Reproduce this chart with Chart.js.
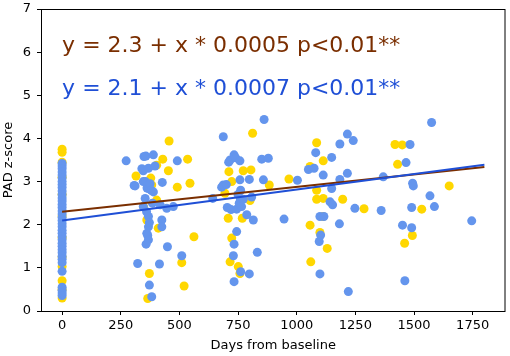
<!DOCTYPE html>
<html>
<head>
<meta charset="utf-8">
<script src="https://cdn.jsdelivr.net/npm/chart.js@4"></script>
<style>
  body { margin: 0; background: #fff; }
</style>
</head>
<body>
<canvas id="padChart" width="510" height="356"></canvas>
<script>
// 노란 점 (x: days, y: z-score)
const yellowX = [0, 0, 0, 0, 0, 0, 0, 0, 0, 0, 0, 0,
  315, 347, 361, 365, 372, 378, 382, 403, 403, 410, 429, 453, 456, 491, 510, 520, 535, 545, 562,
  694, 708, 711, 716, 723, 723, 751, 758, 768, 772, 801, 805, 812, 883, 967,
  1057, 1057, 1060, 1085, 1085, 1085, 1099, 1112, 1113, 1113, 1130, 1196, 1287,
  1419, 1430, 1450, 1460, 1493, 1533, 1650];
const yellowY = [3.75, 3.68, 3.45, 3.1, 2.7, 2.2, 1.7, 1.25, 1.03, 0.7, 0.5, 0.3,
  3.13, 2.42, 2.11, 0.29, 0.87, 3.08, 2.92, 2.57, 3.38, 1.92, 3.52, 3.25, 3.94, 2.87, 1.12, 0.58, 3.52, 2.96, 1.72,
  2.73, 2.15, 3.23, 1.14, 1.69, 3.0, 1.03, 0.87, 2.15, 3.25, 2.56, 3.27, 4.12, 2.92, 3.06,
  1.99, 3.35, 1.14, 3.9, 2.8, 2.59, 1.82, 2.19, 3.48, 2.61, 1.45, 2.59, 2.37,
  3.86, 3.4, 3.85, 1.57, 1.75, 2.36, 2.9];

// 파란 점
const blueX = [0, 0, 0, 0, 0, 0, 0, 0, 0, 0, 0, 0, 0, 0, 0, 0, 0, 0, 0, 0,
  0, 0, 0, 0, 0, 0, 0, 0, 0, 0, 0, 0, 0, 0, 0, 0, 0,
  273, 307, 311, 322, 340, 346, 346, 346, 349, 354, 355, 357, 358, 360, 361, 362, 365,
  368, 368, 368, 368, 368, 372, 372, 375, 380, 382, 385, 389, 389, 396,
  415, 418, 425, 425, 427, 446, 449, 474, 491, 510,
  642, 680, 687, 687, 700, 704, 710, 716, 720, 730, 733, 733, 733, 740, 744, 744, 750, 755,
  758, 758, 760, 761, 761, 765, 772, 787, 798, 798, 808, 815, 832, 851, 858, 861, 879, 946,
  1003, 1050, 1074, 1081, 1096, 1099, 1099, 1102, 1113, 1116, 1142, 1149, 1149, 1153,
  1182, 1184, 1184, 1216, 1216, 1220, 1241, 1248, 1360, 1369,
  1451, 1461, 1466, 1483, 1490, 1490, 1494, 1497, 1568, 1575, 1587, 1746];
const blueY = [3.42, 3.36, 3.3, 3.22, 3.15, 3.08, 3.0, 2.93, 2.86, 2.78, 2.7, 2.62, 2.55, 2.47, 2.4, 2.32, 2.25, 2.17, 2.1, 2.02,
  1.95, 1.87, 1.8, 1.72, 1.65, 1.57, 1.5, 1.42, 1.35, 1.27, 1.2, 1.12, 0.92, 0.55, 0.48, 0.42, 0.36,
  3.48, 2.91, 2.9, 1.1, 3.3, 3.25, 3.0, 2.42, 3.58, 2.61, 3.0, 3.59, 1.55, 2.3, 1.8, 2.85, 1.75,
  3.31, 2.84, 2.19, 1.95, 1.65, 0.6, 2.05, 2.95, 2.8, 0.33, 2.5, 3.62, 2.76, 3.36,
  1.09, 2.46, 2.11, 1.95, 2.98, 2.38, 1.49, 2.42, 3.48, 1.28,
  2.61, 2.87, 2.92, 4.04, 2.93, 2.4, 3.45, 3.5, 2.35, 1.28, 3.62, 1.55, 0.68, 3.55, 2.36, 1.84, 2.7, 2.5,
  3.48, 3.04, 2.6, 2.8, 0.91, 2.42, 2.59, 2.23, 3.05, 0.86, 2.64, 2.11, 1.36, 3.52, 3.04, 4.44, 3.54, 2.13,
  3.03, 3.28, 3.31, 3.67, 1.61, 2.19, 0.86, 1.76, 3.15, 2.19, 2.53, 3.56, 2.84, 2.46,
  2.02, 3.87, 3.05, 4.1, 3.19, 0.45, 3.95, 2.38, 2.33, 3.11,
  1.99, 0.7, 3.44, 3.86, 2.4, 1.93, 2.96, 2.9, 2.67, 4.37, 2.42, 2.09];

// 회귀선 (양 끝점)
const fitX = [0, 1800];
const brownFitY = [2.3, 3.34];
const blueFitY = [2.1, 3.39];

// 축 눈금
const xTicks = [0, 250, 500, 750, 1000, 1250, 1500, 1750];
const yTicks = [0, 1, 2, 3, 4, 5, 6, 7];

// 식 텍스트
const eqTexts = ["y = 2.3 + x * 0.0005 p<0.01**", "y = 2.1 + x * 0.0007 p<0.01**"];
const eqAnchorY = [6, 5];
const eqColors = ["#7a2e00", "#1f4fd6"];

const toPoints = (xs, ys) => xs.map((x, i) => ({ x: x, y: ys[i] }));

// 네 테두리 + 식 텍스트
const framePlugin = {
  id: "frame",
  afterDatasetsDraw(chart) {
    const { ctx, chartArea, scales } = chart;
    ctx.save();
    ctx.strokeStyle = "#000";
    ctx.lineWidth = 1;
    ctx.strokeRect(chartArea.left + 0.5, chartArea.top + 0.5,
      chartArea.right - chartArea.left - 1, chartArea.bottom - chartArea.top);
    ctx.font = "22px 'DejaVu Sans'";
    ctx.textBaseline = "alphabetic";
    ctx.textAlign = "left";
    eqTexts.forEach((t, i) => {
      ctx.fillStyle = eqColors[i];
      ctx.fillText(t, scales.x.getPixelForValue(0), scales.y.getPixelForValue(eqAnchorY[i]));
    });
    ctx.restore();
  },
};

const tickFont = { family: "'DejaVu Sans'", size: 13 };

new Chart(document.getElementById("padChart").getContext("2d"), {
  type: "scatter",
  data: {
    datasets: [
      {
        type: "line",
        data: toPoints(fitX, blueFitY),
        borderColor: "#1f4fd6",
        borderWidth: 2,
        pointRadius: 0,
        fill: false,
      },
      {
        type: "line",
        data: toPoints(fitX, brownFitY),
        borderColor: "#7a2e00",
        borderWidth: 2,
        pointRadius: 0,
        fill: false,
      },
      {
        data: toPoints(blueX, blueY),
        backgroundColor: "#6495ed",
        borderWidth: 0,
        pointRadius: 4.5,
      },
      {
        data: toPoints(yellowX, yellowY),
        backgroundColor: "#ffd700",
        borderWidth: 0,
        pointRadius: 4.5,
      },
    ],
  },
  options: {
    responsive: false,
    animation: false,
    events: [],
    layout: { padding: { top: 9, right: 1, left: 0, bottom: 0 } },
    plugins: {
      legend: { display: false },
      tooltip: { enabled: false },
    },
    scales: {
      x: {
        type: "linear",
        min: -90,
        max: 1890,
        afterBuildTicks: (scale) => {
          scale.ticks = xTicks.map((v) => ({ value: v }));
        },
        afterFit: (scale) => {
          scale.height = 45;
          scale.paddingLeft = 0;
          scale.paddingRight = 0;
        },
        grid: { drawOnChartArea: false, drawTicks: true, tickLength: 4, color: "#000" },
        border: { display: false },
        ticks: {
          color: "#000",
          font: tickFont,
          padding: 3,
          maxRotation: 0,
          autoSkip: false,
          callback: (v) => String(v),
        },
        title: {
          display: true,
          text: "Days from baseline",
          color: "#000",
          font: tickFont,
          padding: { top: 0, bottom: 3 },
        },
      },
      y: {
        type: "linear",
        min: 0,
        max: 7,
        afterBuildTicks: (scale) => {
          scale.ticks = yTicks.map((v) => ({ value: v }));
        },
        afterFit: (scale) => {
          scale.width = 41;
          scale.paddingTop = 0;
          scale.paddingBottom = 0;
        },
        grid: { drawOnChartArea: false, drawTicks: true, tickLength: 4, color: "#000" },
        border: { display: false },
        ticks: { color: "#000", font: tickFont, padding: 6, callback: (v) => String(v) },
        title: {
          display: true,
          text: "PAD z-score",
          color: "#000",
          font: tickFont,
          padding: { top: 1, bottom: 0 },
        },
      },
    },
  },
  plugins: [framePlugin],
});
</script>
</body>
</html>
